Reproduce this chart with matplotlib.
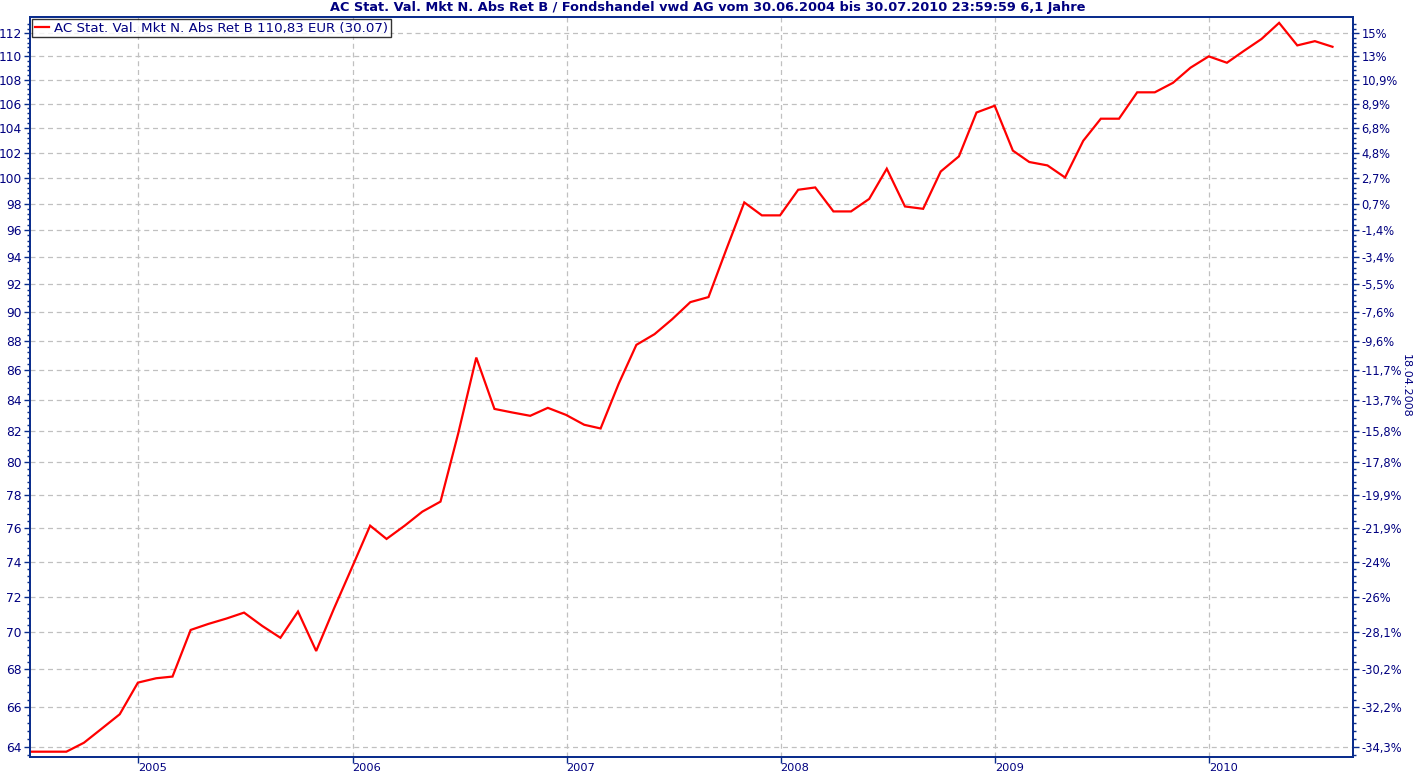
import matplotlib
matplotlib.use("Agg")
import matplotlib.pyplot as plt
import matplotlib.dates as mdates
from matplotlib.ticker import FixedLocator, FixedFormatter, NullFormatter
import numpy as np
import pandas as pd

# ---- data ----
dates = pd.date_range("2004-06-30", "2010-07-31", freq="ME")
dates = dates[:-1].append(pd.DatetimeIndex(["2010-07-30"]))
values = [
    63.75, 63.75, 63.75, 64.2, 64.93, 65.65, 67.30,                 # 2004 Jun-Dec
    67.53, 67.62, 70.14, 70.47, 70.77, 71.10, 70.36, 69.71, 71.16, 68.99, 71.3, 73.66,   # 2005
    76.12, 75.33, 76.12, 76.96, 77.57, 81.8, 86.85, 83.42, 83.19, 82.97, 83.49, 83.03,   # 2006
    82.39, 82.15, 85.1, 87.72, 88.46, 89.5, 90.71, 91.07, 94.5, 98.09, 97.1, 97.1,       # 2007
    99.07, 99.25, 97.4, 97.4, 98.36, 100.72, 97.78, 97.6, 100.5, 101.7, 105.26, 105.82,  # 2008
    102.16, 101.25, 100.98, 100.03, 102.95, 104.75, 104.75, 106.94, 106.94, 107.74, 109.03, 110.0,  # 2009
    109.45, 110.44, 111.51, 112.93, 110.95, 111.32, 110.83,          # 2010 Jan-Jul
]
left_ticks = list(range(64, 113, 2))
pct_labels = ["-34,3%", "-32,2%", "-30,2%", "-28,1%", "-26%", "-24%", "-21,9%", "-19,9%",
              "-17,8%", "-15,8%", "-13,7%", "-11,7%", "-9,6%", "-7,6%", "-5,5%", "-3,4%",
              "-1,4%", "0,7%", "2,7%", "4,8%", "6,8%", "8,9%", "10,9%", "13%", "15%"]
year_ticks = ["2005", "2006", "2007", "2008", "2009", "2010"]
title = "AC Stat. Val. Mkt N. Abs Ret B / Fondshandel vwd AG vom 30.06.2004 bis 30.07.2010 23:59:59 6,1 Jahre"
legend_label = "AC Stat. Val. Mkt N. Abs Ret B 110,83 EUR (30.07)"
ref_date_label = "18.04.2008"

NAVY = "#000080"
SPINE = "#0a2d8c"

plt.rcParams['font.family'] = ['DejaVu Sans']
fig = plt.figure(figsize=(14.16, 7.75), dpi=100)
ax = fig.add_axes([30/1416, 1-757/775, (1353-30)/1416, (757-17)/775])

ax.plot(dates, values, color="#ff0000", lw=1.6, label=legend_label, solid_joinstyle="miter")
ax.set_yscale("log")
ax.set_ylim(63.485, 113.45)
ax.set_xlim(pd.Timestamp("2004-06-30"), pd.Timestamp("2010-09-03"))

minor_vals = [v for v in np.arange(63.6, 113.2, 0.4) if abs(v/2 - round(v/2)) > 1e-6]

ax.yaxis.set_major_locator(FixedLocator(left_ticks))
ax.yaxis.set_major_formatter(FixedFormatter([str(t) for t in left_ticks]))
ax.yaxis.set_minor_locator(FixedLocator(minor_vals))
ax.yaxis.set_minor_formatter(NullFormatter())

ax.xaxis.set_major_locator(FixedLocator([mdates.date2num(pd.Timestamp(f"{y}-01-01")) for y in year_ticks]))
ax.xaxis.set_major_formatter(FixedFormatter(year_ticks))
for lbl in ax.get_xticklabels():
    lbl.set_horizontalalignment("left")

TS = 8.8
ax.tick_params(axis="y", which="major", length=4, width=1, color=SPINE, labelcolor=NAVY, labelsize=TS, pad=2)
ax.tick_params(axis="y", which="minor", length=2, width=1, color=SPINE)
ax.tick_params(axis="x", which="major", length=4, width=1, color=SPINE, labelcolor=NAVY, labelsize=8.2, pad=0.5)

ax.grid(True, which="major", axis="both", color="#c0c0c0", linestyle=(0, (4, 3)), lw=0.9)
for s in ax.spines.values():
    s.set_color(SPINE)
    s.set_linewidth(1.3)

ax2 = ax.twinx()
ax2.set_yscale("log")
ax2.set_ylim(ax.get_ylim())
ax2.yaxis.set_major_locator(FixedLocator(left_ticks))
ax2.yaxis.set_major_formatter(FixedFormatter(pct_labels))
ax2.yaxis.set_minor_locator(FixedLocator(minor_vals))
ax2.yaxis.set_minor_formatter(NullFormatter())
ax2.tick_params(axis="y", which="major", length=4, width=1, color=SPINE, labelcolor=NAVY, labelsize=8.3, pad=2)
ax2.tick_params(axis="y", which="minor", length=2, width=1, color=SPINE)
for s in ax2.spines.values():
    s.set_color(SPINE)
    s.set_linewidth(1.3)

leg = ax.legend(loc="upper left", bbox_to_anchor=(0.0, 1.0), borderaxespad=0.15, frameon=True,
                fancybox=False, fontsize=9.6, handlelength=1.1, handletextpad=0.35,
                borderpad=0.2, labelcolor=NAVY)
leg.get_frame().set_edgecolor("black")
leg.get_frame().set_linewidth(1.0)

fig.text(0.5, 1-8/775, title, ha="center", va="center", fontsize=9.3, fontweight="bold", color=NAVY)
fig.text(1406/1416, 1-386/775, ref_date_label, rotation=270, ha="center", va="center", fontsize=8, color=NAVY)

fig.savefig("out.png", dpi=100)
